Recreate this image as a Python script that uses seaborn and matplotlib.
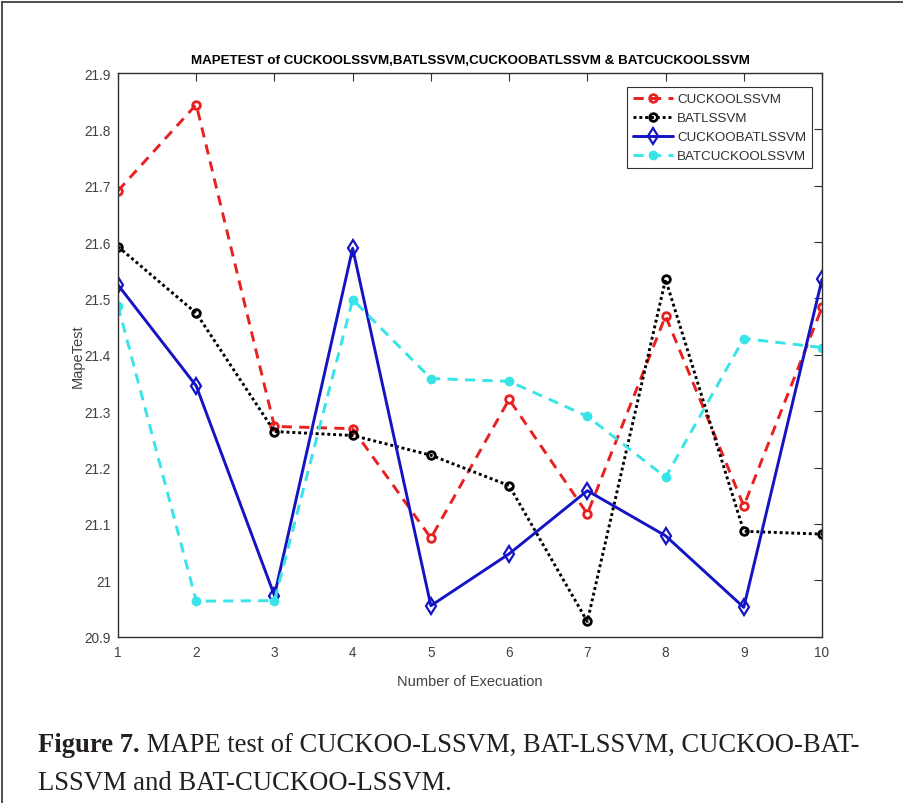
import matplotlib
matplotlib.use("Agg")
import matplotlib.pyplot as plt
import seaborn as sns
import numpy as np
import pandas as pd
from matplotlib.lines import Line2D
from matplotlib.ticker import FormatStrFormatter

executions = [1, 2, 3, 4, 5, 6, 7, 8, 9, 10]
cuckoo_lssvm = [21.691, 21.844, 21.273, 21.269, 21.075, 21.321, 21.118, 21.469, 21.132, 21.484]
bat_lssvm = [21.592, 21.474, 21.264, 21.257, 21.222, 21.168, 20.927, 21.534, 21.087, 21.082]
cuckoo_bat_lssvm = [21.524, 21.345, 20.973, 21.589, 20.955, 21.047, 21.159, 21.079, 20.952, 21.534]
bat_cuckoo_lssvm = [21.487, 20.963, 20.964, 21.498, 21.358, 21.353, 21.291, 21.183, 21.429, 21.413]
series_names = ["CUCKOOLSSVM", "BATLSSVM", "CUCKOOBATLSSVM", "BATCUCKOOLSSVM"]
y_ticks = [20.9, 21.0, 21.1, 21.2, 21.3, 21.4, 21.5, 21.6, 21.7, 21.8, 21.9]

title = "MAPETEST of CUCKOOLSSVM,BATLSSVM,CUCKOOBATLSSVM & BATCUCKOOLSSVM"
xlabel = "Number of Execuation"
ylabel = "MapeTest"
caption_bold = "Figure 7."
caption_rest1 = " MAPE test of CUCKOO-LSSVM, BAT-LSSVM, CUCKOO-BAT-"
caption_line2 = "LSSVM and BAT-CUCKOO-LSSVM."

sns.set_style("white")
narrow = ["Liberation Sans Narrow", "Liberation Sans", "DejaVu Sans"]
plt.rcParams["font.family"] = narrow

fig = plt.figure(figsize=(9.04, 8.04), dpi=100)
ax = fig.add_axes([118/904, 1-637.7/804, (822-118)/904, (637.7-74)/804])

styles = [
    dict(color="#e82020", linestyle=(0, (3.5, 2.5)), marker="o", mfc="none", mec="#e82020", mew=2.0, ms=5.5, lw=2.1),
    dict(color="black", linestyle=(0, (1, 1)), marker="o", mfc="none", mec="black", mew=2.0, ms=5.5, lw=2.1),
    dict(color="#1414c4", linestyle="-", marker="d", mfc="none", mec="#1414c4", mew=1.6, ms=8, lw=2.1),
    dict(color="#38e4e8", linestyle=(0, (3.5, 2.5)), marker="o", mfc="#38e4e8", mec="#38e4e8", mew=1.5, ms=5.5, lw=2.1),
]
data = [cuckoo_lssvm, bat_lssvm, cuckoo_bat_lssvm, bat_cuckoo_lssvm]

for name, vals, st in zip(series_names, data, styles):
    df = pd.DataFrame({"x": executions, "y": vals})
    sns.lineplot(data=df, x="x", y="y", ax=ax, label=name,
                 color=st["color"], linestyle=st["linestyle"], marker=st["marker"],
                 markerfacecolor=st["mfc"], markeredgecolor=st["mec"],
                 markeredgewidth=st["mew"], markersize=st["ms"], linewidth=st["lw"])

ax.set_xlim(1, 10)
ax.set_ylim(20.9, 21.9)
ax.set_xticks(executions)
ax.set_yticks(y_ticks)
ax.yaxis.set_major_formatter(FormatStrFormatter("%g"))
ax.tick_params(direction="in", top=True, right=True, length=6, width=0.8,
               labelsize=9.8, labelcolor="#404040", color="#303030", pad=6)
ax.tick_params(axis="y", pad=5)
for sp in ax.spines.values():
    sp.set_color("#303030")
    sp.set_linewidth(1.0)

ax.set_title(title, fontsize=9.6, fontweight="bold", color="black", pad=7)
ax.set_xlabel(xlabel, fontsize=10.5, color="#404040", labelpad=11)
ax.set_ylabel(ylabel, fontsize=10.5, color="#404040")
ax.yaxis.set_label_coords(-0.047, 0.5)

leg = ax.legend(loc="upper right", bbox_to_anchor=(0.9858, 0.9752), fontsize=9.6,
                frameon=True, fancybox=False, framealpha=1, edgecolor="#303030",
                borderaxespad=0, handlelength=3.0, handletextpad=0.3,
                labelspacing=0.5, borderpad=0.45)
leg.get_frame().set_linewidth(0.8)
for t in leg.get_texts():
    t.set_color("#303030")

# outer frame (left and top)
fig.add_artist(Line2D([2.5/904, 2.5/904], [0, 1-3/804], transform=fig.transFigure, color="#303030", lw=1.2))
fig.add_artist(Line2D([2.5/904, 1], [1-3/804, 1-3/804], transform=fig.transFigure, color="#303030", lw=1.2))

serif = ["Liberation Serif", "DejaVu Serif"]
t1 = fig.text(38/904, 1-746/804, caption_bold, fontsize=19.2, fontweight="bold",
              family=serif, va="center", ha="left", color="#231f20")
fig.canvas.draw()
bb = t1.get_window_extent()
fig.text(bb.x1/904, 1-746/804, caption_rest1, fontsize=19.2, family=serif,
         va="center", ha="left", color="#231f20")
fig.text(38/904, 1-784/804, caption_line2, fontsize=19.2, family=serif,
         va="center", ha="left", color="#231f20")

fig.savefig("out.png", dpi=100)
